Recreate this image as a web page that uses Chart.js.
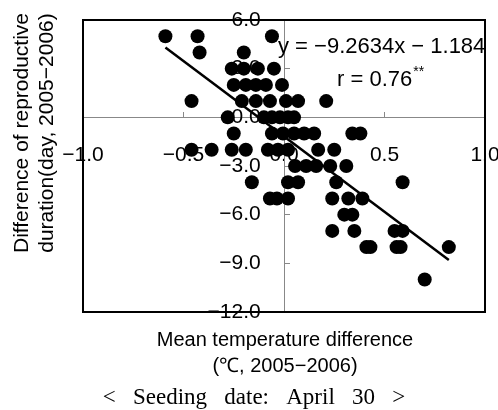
<!DOCTYPE html>
<html>
<head>
<meta charset="utf-8">
<script src="https://cdn.jsdelivr.net/npm/chart.js@4"></script>
<style>
  html, body { margin: 0; padding: 0; background: #fff; }
  #wrap { width: 498px; height: 410px; }
</style>
</head>
<body>
<div id="wrap"><canvas id="chart"></canvas></div>
<script>
const tempDiff = [
  -0.59, -0.43, -0.06,
  -0.42, -0.20,
  -0.26, -0.20, -0.13, -0.05,
  -0.25, -0.19, -0.14, -0.09, -0.01,
  -0.46, -0.21, -0.14, -0.07, 0.01, 0.07, 0.21,
  -0.28, -0.10, -0.06, -0.02, 0.02, 0.05,
  -0.25, -0.06, -0.005, 0.05, 0.10, 0.15, 0.34, 0.38,
  -0.46, -0.36, -0.26, -0.19, -0.08, -0.03, 0.02, 0.17, 0.25,
  0.055, 0.11, 0.16, 0.23, 0.31,
  -0.16, 0.02, 0.07, 0.26, 0.59,
  -0.07, -0.035, 0.02, 0.24, 0.32, 0.39,
  0.30, 0.34,
  0.24, 0.35, 0.55, 0.59,
  0.41, 0.43, 0.56, 0.58, 0.82,
  0.70
];
const dayDiff = [
  5, 5, 5,
  4, 4,
  3, 3, 3, 3,
  2, 2, 2, 2, 2,
  1, 1, 1, 1, 1, 1, 1,
  0, 0, 0, 0, 0, 0,
  -1, -1, -1, -1, -1, -1, -1, -1,
  -2, -2, -2, -2, -2, -2, -2, -2, -2,
  -3, -3, -3, -3, -3,
  -4, -4, -4, -4, -4,
  -5, -5, -5, -5, -5, -5,
  -6, -6,
  -7, -7, -7, -7,
  -8, -8, -8, -8, -8,
  -10
];
// regression line ends
const fitX = [-0.59, 0.82];
const fitY = [4.3, -8.8];

const xTicks = [-1.0, -0.5, 0.0, 0.5, 1.0];
const yTicks = [6, 3, 0, -3, -6, -9, -12];

const equation = 'y = \u22129.2634x \u2212 1.184';
const corrText = 'r = 0.76';
const yTitle = ['Difference of reproductive', 'duration(day, 2005\u22122006)'];
const xTitle = ['Mean temperature difference', '(\u2103, 2005\u22122006)'];
const caption = '<   Seeding   date:   April   30   >';

const fmt = v => (v < 0 ? '\u2212' : '') + Math.abs(v).toFixed(1);

const font = 'Liberation Sans, Arial, sans-serif';

// centred axes should not eat into the plot area
const noReserve = s => {
  if (s.isHorizontal()) s.height = 0; else s.width = 0;
  s.paddingTop = s.paddingBottom = s.paddingLeft = s.paddingRight = 0;
};

const extraText = {
  id: 'extraText',
  afterDraw(chart) {
    const ctx = chart.ctx;
    const a = chart.chartArea;
    ctx.save();
    // frame
    ctx.strokeStyle = '#000';
    ctx.lineWidth = 2;
    ctx.strokeRect(a.left, a.top, a.right - a.left, a.bottom - a.top);
    ctx.fillStyle = '#000';

    // equation and r
    ctx.font = '22px ' + font;
    ctx.textAlign = 'left';
    ctx.textBaseline = 'alphabetic';
    ctx.fillText(equation, 278, 53);
    ctx.fillText(corrText, 337, 86);
    const w = ctx.measureText(corrText).width;
    ctx.font = '14px ' + font;
    ctx.fillText('**', 337 + w + 1, 76);

    // axis titles
    ctx.textAlign = 'center';
    ctx.textBaseline = 'middle';
    ctx.font = '20px ' + font;
    ctx.fillText(xTitle[0], 285, 340);
    ctx.fillText(xTitle[1], 285, 366);
    ctx.font = '21px ' + font;
    ctx.save();
    ctx.translate(22, 133);
    ctx.rotate(-Math.PI / 2);
    ctx.fillText(yTitle[0], 0, 0);
    ctx.fillText(yTitle[1], 0, 25);
    ctx.restore();

    // caption
    ctx.font = '23px Liberation Serif, Times New Roman, serif';
    ctx.fillText(caption, 254, 398);
    ctx.restore();
  }
};

new Chart(document.getElementById('chart'), {
  type: 'scatter',
  data: {
    datasets: [
      {
        data: tempDiff.map((x, i) => ({ x: x, y: dayDiff[i] })),
        backgroundColor: '#000',
        borderWidth: 0,
        pointRadius: 7,
        pointHoverRadius: 7
      },
      {
        type: 'line',
        data: fitX.map((x, i) => ({ x: x, y: fitY[i] })),
        borderColor: '#000',
        borderWidth: 2.5,
        pointRadius: 0,
        fill: false
      }
    ]
  },
  plugins: [extraText],
  options: {
    responsive: true,
    maintainAspectRatio: false,
    animation: false,
    layout: { padding: { left: 83, top: 20, right: 13, bottom: 98 } },
    plugins: { legend: { display: false }, tooltip: { enabled: false } },
    scales: {
      x: {
        type: 'linear',
        min: -1, max: 1,
        position: { y: 0 },
        afterBuildTicks: s => { s.ticks = xTicks.map(v => ({ value: v })); },
        afterFit: noReserve,
        grid: { drawOnChartArea: false, drawTicks: true, tickLength: -6, color: '#888' },
        border: { color: '#888', width: 1 },
        ticks: { padding: 31, color: '#000', font: { family: font, size: 21 }, callback: v => fmt(v), maxRotation: 0 }
      },
      y: {
        type: 'linear',
        min: -12, max: 6,
        position: { x: 0 },
        afterBuildTicks: s => { s.ticks = yTicks.map(v => ({ value: v })); },
        afterFit: noReserve,
        grid: { drawOnChartArea: false, drawTicks: true, tickLength: -6, color: '#888' },
        border: { color: '#888', width: 1 },
        // labels sit right-aligned on the axis here, trailing spaces push them off it
        ticks: { color: '#000', font: { family: font, size: 21 }, callback: v => fmt(v) + '    ' }
      }
    }
  }
});
</script>
</body>
</html>
